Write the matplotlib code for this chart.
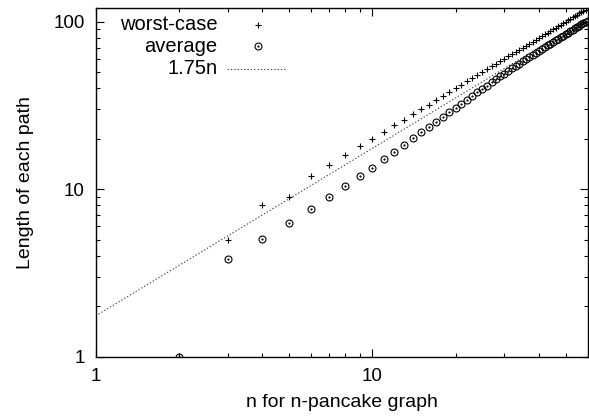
import matplotlib
matplotlib.use("Agg")
import matplotlib.pyplot as plt
from matplotlib.ticker import LogLocator, NullFormatter, FixedLocator, FixedFormatter

plt.rcParams['font.family'] = ['Liberation Sans', 'DejaVu Sans']

# data
n = list(range(2, 61))
worst = [1, 5, 8, 9, 12, 14, 16, 18, 20, 22, 24, 26, 28, 30, 32, 34, 36, 38, 40,
         42, 44, 46, 48, 50, 52, 54, 56, 58, 60, 62, 64, 66, 68, 70, 72, 74, 76, 78,
         80, 82, 84, 86, 88, 90, 92, 94, 96, 98, 100, 102, 104, 106, 108, 110, 112,
         114, 116, 118, 120]
average = [1, 3.83, 5.07, 6.3, 7.6, 9.0, 10.4, 11.9, 13.4, 15.2, 16.7, 18.4, 20.3,
           21.8, 23.4, 25.2, 27.0, 28.7, 30.4, 32.2, 34.0, 35.9, 37.8, 39.7, 41.5,
           43.4, 45.3, 47.1, 49.0, 50.8, 52.6, 54.4, 56.2, 58.0, 59.8, 61.6, 63.4,
           65.2, 67.0, 68.7, 70.4, 72.2, 73.9, 75.6, 77.4, 79.1, 80.8, 82.5, 84.2,
           86.0, 87.7, 89.4, 91.1, 92.8, 94.5, 96.2, 97.9, 99.6, 101.3]
line_x = [1, 60]
coef = 1.75

fig = plt.figure(figsize=(5.89, 4.19), dpi=100)
ax = fig.add_axes([0.1625, 0.149, 0.835, 0.831])

ax.plot(line_x, [coef * v for v in line_x], color='#444444', lw=0.8,
        linestyle=(0, (1.2, 1.8)))
ax.plot(n, worst, linestyle='none', marker='+', ms=5, mew=0.8, color='black')
ax.plot(n, average, linestyle='none', marker='o', ms=5, mew=0.8,
        mfc='none', color='black')
ax.plot(n, average, linestyle='none', marker='.', ms=1.2, color='black')

ax.set_xscale('log')
ax.set_yscale('log')
ax.set_xlim(1, 60)
ax.set_ylim(1, 120)

ax.xaxis.set_major_locator(FixedLocator([1, 10]))
ax.xaxis.set_major_formatter(FixedFormatter(['1', '10']))
ax.xaxis.set_minor_locator(LogLocator(base=10, subs=range(2, 10)))
ax.xaxis.set_minor_formatter(NullFormatter())
ax.yaxis.set_major_locator(FixedLocator([1, 10, 100]))
ax.yaxis.set_major_formatter(FixedFormatter(['1', '10', '100']))
ax.yaxis.set_minor_locator(LogLocator(base=10, subs=range(2, 10)))
ax.yaxis.set_minor_formatter(NullFormatter())

ax.tick_params(which='both', direction='in', top=True, right=True, labelsize=13.5)
ax.tick_params(which='major', length=6, width=0.8, pad=8)
ax.tick_params(which='minor', length=3, width=0.8)
for s in ax.spines.values():
    s.set_linewidth(1.0)

ax.set_xlabel('n for n-pancake graph', fontsize=14, labelpad=7)
ax.set_ylabel('Length of each path', fontsize=14, labelpad=14)

# gnuplot-style key: text right-aligned, sample to the right
tx, mx = 0.248, 0.329
rows = [0.953, 0.891, 0.827]
labels = ['worst-case', 'average', '1.75n']
for y, lab in zip(rows, labels):
    ax.text(tx, y, lab, transform=ax.transAxes, ha='right', va='center', fontsize=14.5)
ax.plot([mx], [rows[0]], transform=ax.transAxes, marker='+', ms=5, mew=0.8,
        color='black', linestyle='none')
ax.plot([mx], [rows[1]], transform=ax.transAxes, marker='o', ms=5, mew=0.8,
        mfc='none', color='black', linestyle='none')
ax.plot([mx], [rows[1]], transform=ax.transAxes, marker='.', ms=1.2,
        color='black', linestyle='none')
ax.plot([0.267, 0.389], [rows[2], rows[2]], transform=ax.transAxes,
        color='#444444', lw=0.8, linestyle=(0, (1.2, 1.8)))

fig.savefig('out.png', dpi=100)
